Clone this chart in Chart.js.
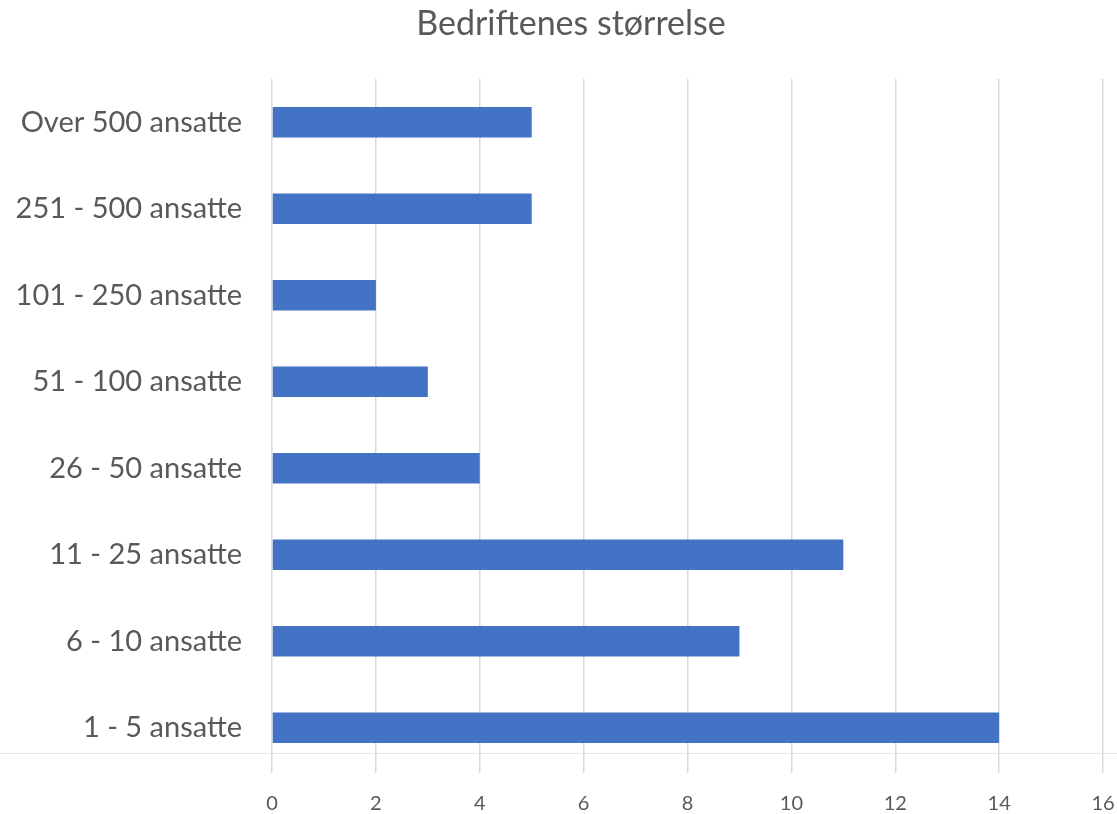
<!DOCTYPE html>
<html>
<head>
<meta charset="utf-8">
<script src="https://cdn.jsdelivr.net/npm/chart.js@4"></script>
<style>
  html, body { margin: 0; padding: 0; background: #fff; }
  #wrap { width: 1117px; height: 814px; }
</style>
</head>
<body>
<div id="wrap"><canvas id="chart" width="1117" height="814"></canvas></div>
<script>
// kategorier, ovenfra og ned
const categories = ['Over 500 ansatte', '251 - 500 ansatte', '101 - 250 ansatte', '51 - 100 ansatte',
  '26 - 50 ansatte', '11 - 25 ansatte', '6 - 10 ansatte', '1 - 5 ansatte'];
const antall = [5, 5, 2, 3, 4, 11, 9, 14];
const xTicks = [0, 2, 4, 6, 8, 10, 12, 14, 16];
const tittel = 'Bedriftenes størrelse';

const textColor = '#595959';
const fontFamily = 'Lato, "Open Sans", sans-serif';

// tittel litt til høyre for midten, og svak linje under siste kategori, som i originalen
const pynt = {
  id: 'pynt',
  beforeDatasetsDraw(chart) {
    const ctx = chart.ctx;
    ctx.save();
    ctx.strokeStyle = '#e6e6e6';
    ctx.lineWidth = 1;
    ctx.beginPath();
    ctx.moveTo(0, 753.5);
    ctx.lineTo(chart.width, 753.5);
    ctx.stroke();
    ctx.restore();
  },
  afterDraw(chart) {
    const ctx = chart.ctx;
    ctx.save();
    ctx.fillStyle = textColor;
    ctx.font = '34px ' + fontFamily;
    ctx.textAlign = 'center';
    ctx.textBaseline = 'middle';
    ctx.fillText(tittel, 571, 24);
    ctx.restore();
  }
};

new Chart(document.getElementById('chart'), {
  type: 'bar',
  data: {
    labels: categories,
    datasets: [{
      label: 'Antall',
      data: antall,
      backgroundColor: '#4472C4',
      barPercentage: 0.35,
      categoryPercentage: 1
    }]
  },
  options: {
    indexAxis: 'y',
    responsive: false,
    animation: false,
    layout: { padding: { left: 0, right: 14, top: 79, bottom: 0 } },
    plugins: {
      legend: { display: false },
      tooltip: { enabled: false },
      title: { display: false }
    },
    scales: {
      x: {
        min: 0,
        max: 16,
        afterBuildTicks(axis) {
          axis.ticks = xTicks.map(v => ({ value: v }));
        },
        afterFit(axis) {
          axis.height = 43;
          axis.paddingLeft = 0;
          axis.paddingRight = 0;
        },
        grid: { color: '#d9d9d9', lineWidth: 1.5, drawTicks: true, tickLength: 2 },
        border: { display: false },
        ticks: {
          color: textColor,
          padding: 19,
          font: { family: fontFamily, size: 20 }
        }
      },
      y: {
        afterFit(axis) { axis.width = 272; },
        grid: { display: false },
        border: { display: false },
        ticks: {
          color: textColor,
          padding: 22,
          font: { family: fontFamily, size: 29 }
        }
      }
    }
  },
  plugins: [pynt]
});
</script>
</body>
</html>
